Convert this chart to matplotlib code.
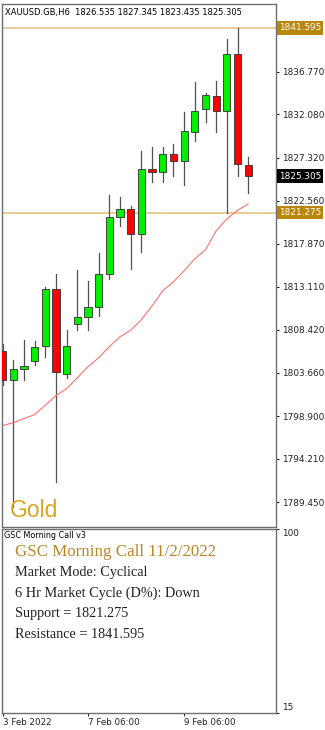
import matplotlib
matplotlib.use("Agg")
import matplotlib.pyplot as plt
from matplotlib.patches import Rectangle

# 6-hour XAUUSD candles (open, high, low, close)
opens = [1806.02, 1802.84, 1804.12, 1804.97, 1806.57, 1812.88, 1803.57, 1808.99,
         1809.80, 1810.90, 1814.53, 1820.85, 1821.73, 1818.95, 1826.06, 1825.76,
         1827.74, 1826.97, 1830.19, 1832.65, 1834.11, 1832.50, 1838.69, 1826.535]
highs = [1806.87, 1805.11, 1807.31, 1807.20, 1813.05, 1814.56, 1808.33, 1814.92,
         1813.79, 1816.83, 1823.24, 1822.98, 1822.03, 1828.07, 1828.48, 1828.51,
         1828.87, 1832.32, 1835.68, 1834.47, 1835.79, 1840.37, 1841.595, 1827.345]
lows = [1802.37, 1788.96, 1802.84, 1804.56, 1805.36, 1791.68, 1803.10, 1808.33,
        1808.33, 1809.95, 1813.98, 1819.83, 1815.08, 1816.90, 1824.63, 1824.70,
        1825.36, 1824.34, 1829.20, 1831.22, 1830.12, 1821.275, 1825.36, 1823.435]
closes = [1802.91, 1804.12, 1804.42, 1806.51, 1812.88, 1803.72, 1806.65, 1809.80,
          1810.90, 1814.53, 1820.85, 1821.73, 1818.95, 1826.06, 1825.76, 1827.74,
          1826.97, 1830.23, 1832.50, 1834.19, 1832.50, 1838.69, 1826.61, 1825.305]
# moving average (red line)
ma = [1797.86, 1798.19, 1798.63, 1799.07, 1800.11, 1801.16, 1801.93, 1803.13,
      1804.34, 1805.33, 1806.54, 1807.64, 1808.35, 1809.51, 1811.04, 1812.69,
      1813.68, 1814.89, 1816.21, 1817.20, 1819.28, 1820.60, 1821.53, 1822.25]

support = 1821.275
resistance = 1841.595
last_price = 1825.305

price_ticks = [1836.770, 1832.080, 1827.320, 1822.560, 1817.870, 1813.110,
               1808.420, 1803.660, 1798.900, 1794.210, 1789.450]
date_ticks = [0, 8, 17]
date_labels = ["3 Feb 2022", "7 Feb 06:00", "9 Feb 06:00"]

header = "XAUUSD.GB,H6  1826.535 1827.345 1823.435 1825.305"
info_title = "GSC Morning Call 11/2/2022"
info_lines = ["Market Mode: Cyclical",
              "6 Hr Market Cycle (D%): Down",
              "Support = %.3f" % support,
              "Resistance = %.3f" % resistance]

W, H = 325, 730
fig = plt.figure(figsize=(W / 100, H / 100), dpi=100)

def box(x0, y0, x1, y1):
    return [x0 / W, 1 - y1 / H, (x1 - x0) / W, (y1 - y0) / H]

ax = fig.add_axes(box(1.5, 4, 276, 526.5))
ax2 = fig.add_axes(box(1.5, 528.5, 276, 712.5))

gold = "#b8860b"
line_gold = "#e6c890"
frame = "#6e6e6e"

# candles
w = 0.68
for i in range(len(opens)):
    o, h, l, c = opens[i], highs[i], lows[i], closes[i]
    ax.plot([i, i], [l, h], color="#505050", lw=0.9, zorder=2)
    col = "#00ee00" if c >= o else "#ff0000"
    ax.add_patch(Rectangle((i - w / 2, min(o, c)), w, max(abs(c - o), 0.15),
                           facecolor=col, edgecolor="#303030", lw=0.6, zorder=3))

ax.plot(range(len(ma)), ma, color="#ff7070", lw=0.8, zorder=2)

ax.axhline(resistance, color=line_gold, lw=1.3, zorder=1)
ax.axhline(support, color=line_gold, lw=1.3, zorder=1)

ax.set_xlim(-0.1, 25.6)
ax.set_ylim(1786.77, 1844.22)
ax.yaxis.tick_right()
ax.set_yticks(price_ticks)
ax.set_yticklabels(["%.3f" % p for p in price_ticks])
ax.tick_params(axis="y", labelsize=6.4, length=2.5, pad=2, colors="#222222")
ax.set_xticks([])
for s in ax.spines.values():
    s.set_color(frame)
    s.set_linewidth(1.0)

# price labels on the right axis
for val, bg in [(resistance, gold), (support, gold), (last_price, "black")]:
    ax.annotate("%.3f" % val, xy=(1, val), xycoords=("axes fraction", "data"),
                xytext=(2, 0), textcoords="offset points", ha="left", va="center",
                fontsize=6.4, color="white",
                bbox=dict(boxstyle="square,pad=0.25", fc=bg, ec="none"))

ax.text(0.012, 0.993, header, transform=ax.transAxes, ha="left", va="top",
        fontsize=6.0, color="black")
ax.text(0.03, 0.008, "Gold", transform=ax.transAxes, ha="left", va="bottom",
        fontsize=16.5, color="#daa520", family="Liberation Sans")

# lower info panel
ax2.set_xlim(ax.get_xlim())
ax2.set_ylim(15, 100)
ax2.yaxis.tick_right()
ax2.set_yticks([15, 100])
ax2.set_yticklabels(["15", "100"])
ax2.tick_params(axis="y", labelsize=6.4, length=2.5, pad=2, colors="#222222")
labs = ax2.get_yticklabels()
labs[0].set_va("bottom")
labs[1].set_va("top")
ax2.set_xticks(date_ticks)
ax2.set_xticklabels(date_labels, ha="left")
ax2.tick_params(axis="x", labelsize=6.3, length=2.5, pad=1.5, colors="#222222")
for s in ax2.spines.values():
    s.set_color(frame)
    s.set_linewidth(1.0)

ax2.text(0.01, 0.985, "GSC Morning Call v3", transform=ax2.transAxes,
         ha="left", va="top", fontsize=5.8, color="black")
ax2.text(0.05, 0.87, info_title, transform=ax2.transAxes, ha="left",
         va="center", fontsize=12.2, color="#b8862b", family="Liberation Serif")
for k, t in enumerate(info_lines):
    ax2.text(0.05, 0.76 - k * 0.112, t, transform=ax2.transAxes, ha="left",
             va="center", fontsize=10.3, color="#222222", family="Liberation Serif")

fig.savefig("out.png", dpi=100)
